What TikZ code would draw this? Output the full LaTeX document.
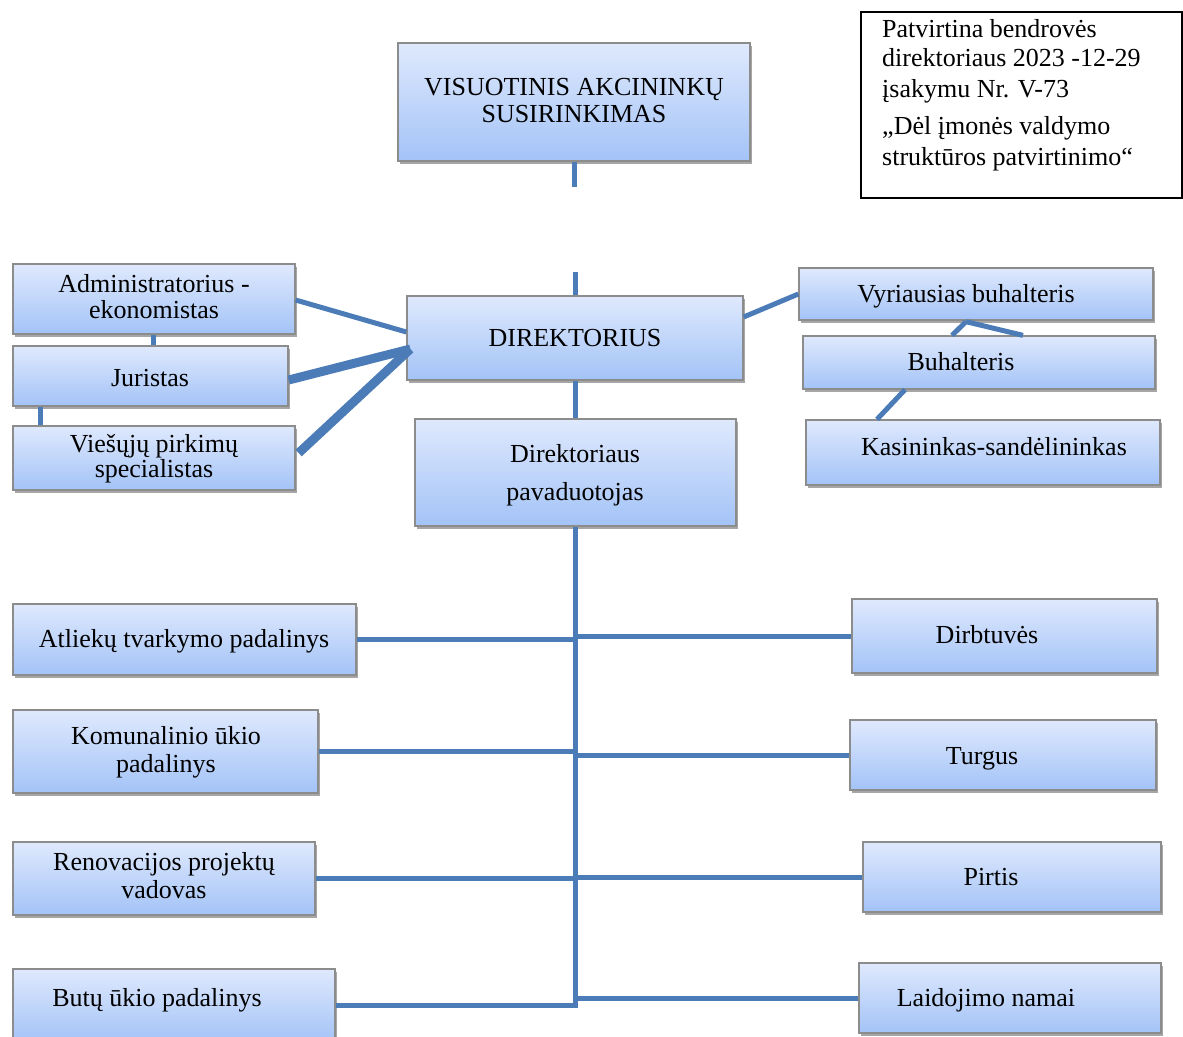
\documentclass[tikz,border=0pt]{standalone}
\usepackage{fontspec}
\setmainfont{Liberation Serif}
\usetikzlibrary{shadows,fit,calc}
\definecolor{boxtop}{HTML}{DFE9FD}
\definecolor{boxbot}{HTML}{A3C3F7}
\definecolor{boxline}{HTML}{8C8C8C}
\definecolor{conn}{HTML}{4C7CB7}
\begin{document}
\begin{tikzpicture}[x=1pt,y=-1pt,
  box/.style={draw=boxline, line width=1.3pt, top color=boxtop, bottom color=boxbot, inner sep=0pt,
    drop shadow={shadow xshift=1.5pt, shadow yshift=-2.5pt, opacity=0.35, fill=black}},
  txt/.style={font=\fontsize{26}{27}\selectfont, inner sep=0pt, anchor=base},
  ntxt/.style={font=\fontsize{26}{27}\selectfont, inner sep=0pt, anchor=base west},
  link/.style={draw=conn, line width=5pt},
  thicklink/.style={draw=conn, line width=9pt},
  ]
\useasboundingbox (0,0) rectangle (1183,1036);

% note box
\node[draw=black, line width=2pt, fit={(861,12)(1182,198)}, inner sep=0pt] (note) {};
\node[ntxt] (n1) at (882,37) {Patvirtina bendrovės};
\node[ntxt] (n2) at (882,66) {direktoriaus 2023 -12-29};
\node[ntxt] (n3) at (882,97) {įsakymu Nr. V-73};
\node[ntxt] (n4) at (882,134) {„Dėl įmonės valdymo};
\node[ntxt] (n5) at (882,165) {struktūros patvirtinimo“};

% boxes
\node[box, fit={(398,43)(750,161)}] (vas) {};
\node[box, fit={(407,296)(743,380)}] (dir) {};
\node[box, fit={(13,264)(295,334)}] (adm) {};
\node[box, fit={(13,346)(288,406)}] (jur) {};
\node[box, fit={(13,426)(295,490)}] (vps) {};
\node[box, fit={(415,419)(736,526)}] (dpv) {};
\node[box, fit={(799,268)(1153,320)}] (vyr) {};
\node[box, fit={(803,336)(1155,389)}] (buh) {};
\node[box, fit={(806,420)(1160,485)}] (kas) {};
\node[box, fit={(13,604)(356,675)}] (atl) {};
\node[box, fit={(13,710)(318,793)}] (kom) {};
\node[box, fit={(13,842)(315,915)}] (ren) {};
\node[box, fit={(13,969)(335,1042)}] (but) {};
\node[box, fit={(852,599)(1157,673)}] (dirb) {};
\node[box, fit={(850,720)(1156,790)}] (tur) {};
\node[box, fit={(863,842)(1161,912)}] (pir) {};
\node[box, fit={(859,963)(1161,1033)}] (lai) {};

% texts
\node[txt] (vas1) at (574,95) {VISUOTINIS AKCININKŲ};
\node[txt] (vas2) at (574,122) {SUSIRINKIMAS};
\node[txt] (dirt) at (575,346) {DIREKTORIUS};
\node[txt] (adm1) at (154,292) {Administratorius -};
\node[txt] (adm2) at (154,318) {ekonomistas};
\node[txt] (jurt) at (150,386) {Juristas};
\node[txt] (vps1) at (154,452) {Viešųjų pirkimų};
\node[txt] (vps2) at (154,477) {specialistas};
\node[txt] (dpv1) at (575,462) {Direktoriaus};
\node[txt] (dpv2) at (575,500) {pavaduotojas};
\node[txt] (vyrt) at (966,302) {Vyriausias buhalteris};
\node[txt] (buht) at (961,370) {Buhalteris};
\node[txt] (kast) at (994,455) {Kasininkas-sandėlininkas};
\node[txt] (atlt) at (184,647) {Atliekų tvarkymo padalinys};
\node[txt] (kom1) at (166,744) {Komunalinio ūkio};
\node[txt] (kom2) at (166,772) {padalinys};
\node[txt] (ren1) at (164,870) {Renovacijos projektų};
\node[txt] (ren2) at (164,898) {vadovas};
\node[txt] (butt) at (157,1006) {Butų ūkio padalinys};
\node[txt] (dirbt) at (987,643) {Dirbtuvės};
\node[txt] (turt) at (982,764) {Turgus};
\node[txt] (pirt) at (991,885) {Pirtis};
\node[txt] (lait) at (986,1006) {Laidojimo namai};

% connectors
\coordinate (s1) at (574,187);
\coordinate (s2) at (575,272);
\draw[link] (vas.south) -- (s1);
\draw[link] (s2) -- (dir.north);
\draw[link] ($(adm.east)+(0,1)$) -- ($(dir.west)+(0,-6)$);
\draw[thicklink] ($(jur.east)+(0,4)$) -- ($(dir.west)+(4,11)$);
\draw[thicklink] ($(vps.east)+(3,-5)$) -- ($(dir.west)+(4,11)$);
\draw[link] ($(adm.south)+(-1,0)$) -- ($(adm.south |- jur.north)+(-1,0)$);
\draw[link] ($(jur.south west)+(28,0)$) -- ($(vps.north west)+(28,0)$);
\draw[link] ($(dir.east)+(0,-21)$) -- (vyr.west);
\draw[link] ($(vyr.south)+(-10,1)$) -- ($(buh.north)+(-27,0)$);
\draw[link] ($(vyr.south)+(-10,1)$) -- ($(buh.north)+(44,0)$);
\draw[link] ($(buh.south)+(-74,0)$) -- ($(kas.north)+(-106,0)$);
\draw[link] (dir.south) -- (dir.south |- dpv.north);
\draw[link] (dpv.south) -- (dpv.south |- but.east) -- (but.east);
\draw[link] (atl.east) -- (atl.east -| dpv.south);
\draw[link] (kom.east) -- (kom.east -| dpv.south);
\draw[link] (ren.east) -- (ren.east -| dpv.south);
\draw[link] (dirb.west) -- (dirb.west -| dpv.south);
\draw[link] (tur.west) -- (tur.west -| dpv.south);
\draw[link] (pir.west) -- (pir.west -| dpv.south);
\draw[link] (lai.west) -- (lai.west -| dpv.south);
\end{tikzpicture}
\end{document}
